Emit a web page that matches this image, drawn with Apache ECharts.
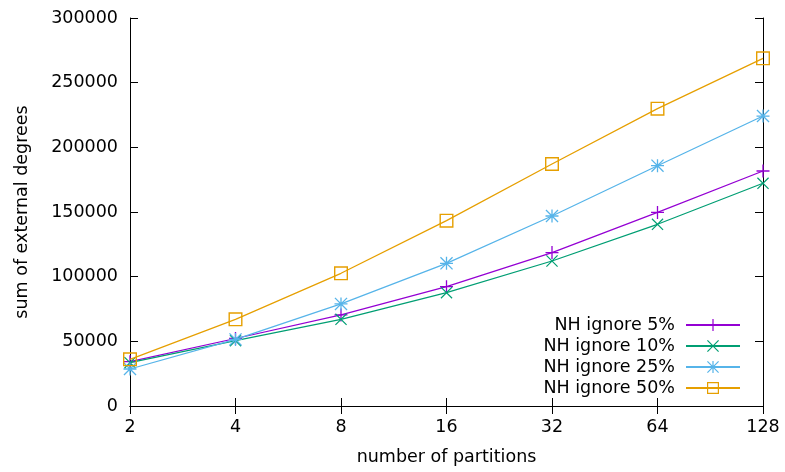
<!DOCTYPE html>
<html>
<head>
<meta charset="utf-8">
<script src="https://cdn.jsdelivr.net/npm/echarts@6/dist/echarts.min.js"></script>
<style>
html,body{margin:0;padding:0;background:#fff;}
#chart{width:785px;height:472px;}
</style>
</head>
<body>
<div id="chart"></div>
<script>
var categories = ['2', '4', '8', '16', '32', '64', '128'];
var seriesNames = ['NH ignore 5%', 'NH ignore 10%', 'NH ignore 25%', 'NH ignore 50%'];
var ignore5 = [34300, 52200, 70400, 92300, 118600, 149700, 181700];
var ignore10 = [33500, 50500, 67000, 87600, 112100, 140500, 172200];
var ignore25 = [28600, 51500, 78900, 110300, 146900, 185800, 224200];
var ignore50 = [36100, 67000, 102600, 143300, 187100, 229900, 268800];
var yTicks = [0, 50000, 100000, 150000, 200000, 250000, 300000];

var colors = ['#9400d3', '#009e73', '#56b4e9', '#e69f00'];
var FONT = 'DejaVu Sans';
var FS = 17.5;

var plusPath = 'path://M4.5,0h1v10h-1z M0,4.5h10v1h-10z';
var crossPath = 'path://M0,0.7L0.7,0L10,9.3L9.3,10z M9.3,0L10,0.7L0.7,10L0,9.3z';
var starPath = 'path://M4.5,0h1v10h-1z M0,4.5h10v1h-10z M0,0.7L0.7,0L10,9.3L9.3,10z M9.3,0L10,0.7L0.7,10L0,9.3z';
var squarePath = 'path://M0,0h10v10h-10z M1,1v8h8v-8z';
var symbols = [plusPath, crossPath, starPath, squarePath];
var symbolSizes = [13, 12, 13, 14];
var dataSets = [ignore5, ignore10, ignore25, ignore50];

var chart = echarts.init(document.getElementById('chart'), null, {renderer: 'canvas'});

var series = dataSets.map(function (d, i) {
  return {
    name: seriesNames[i],
    type: 'line',
    data: d,
    symbol: symbols[i],
    symbolSize: symbolSizes[i],
    showAllSymbol: true,
    smooth: false,
    animation: false,
    lineStyle: {color: colors[i], width: 1.25},
    itemStyle: {color: colors[i], borderWidth: 0},
    emphasis: {disabled: true},
    z: 2 + i
  };
});

var rowCenters = [325, 346, 367, 388];
var legends = seriesNames.map(function (n, i) {
  return {
    data: [n],
    right: 44,
    top: rowCenters[i] - 10,
    orient: 'vertical',
    align: 'right',
    padding: 0,
    itemWidth: 54,
    itemHeight: 15,
    selectedMode: false,
    textStyle: {fontFamily: FONT, fontSize: FS, color: '#000', lineHeight: 20, padding: [0, 6, 0, 0]}
  };
});

var axisCommonY = {
  type: 'value',
  min: 0,
  max: 300000,
  interval: 50000,
  splitLine: {show: false},
  axisLine: {show: true, lineStyle: {color: '#000', width: 1}},
  axisTick: {show: true, inside: true, length: 8, lineStyle: {color: '#000', width: 1}}
};

chart.setOption({
  backgroundColor: '#fff',
  animation: false,
  color: colors,
  grid: {left: 130, right: 22, top: 18, bottom: 66, containLabel: false},
  legend: legends,
  xAxis: [{
    type: 'category',
    data: categories,
    boundaryGap: false,
    position: 'bottom',
    name: 'number of partitions',
    nameLocation: 'middle',
    nameGap: 42,
    nameTextStyle: {fontFamily: FONT, fontSize: FS, color: '#000'},
    axisLine: {show: true, lineStyle: {color: '#000', width: 1}},
    axisTick: {show: true, inside: true, length: 8, alignWithLabel: true, lineStyle: {color: '#000', width: 1}},
    axisLabel: {fontFamily: FONT, fontSize: FS, color: '#000', margin: 12},
    splitLine: {show: false}
  }, {
    type: 'category',
    data: categories,
    boundaryGap: false,
    position: 'top',
    axisLine: {show: true, lineStyle: {color: '#000', width: 1}},
    axisTick: {show: true, inside: true, length: 8, lineStyle: {color: '#000', width: 1}},
    axisLabel: {show: false},
    splitLine: {show: false}
  }],
  yAxis: [Object.assign({}, axisCommonY, {
    position: 'left',
    name: 'sum of external degrees',
    nameLocation: 'middle',
    nameGap: 99,
    nameTextStyle: {fontFamily: FONT, fontSize: FS, color: '#000'},
    axisLabel: {fontFamily: FONT, fontSize: FS, color: '#000', margin: 12,
      formatter: function (v) { return yTicks.indexOf(v) >= 0 ? String(v) : ''; }}
  }), Object.assign({}, axisCommonY, {
    position: 'right',
    axisLabel: {show: false}
  })],
  series: series
});
</script>
</body>
</html>
